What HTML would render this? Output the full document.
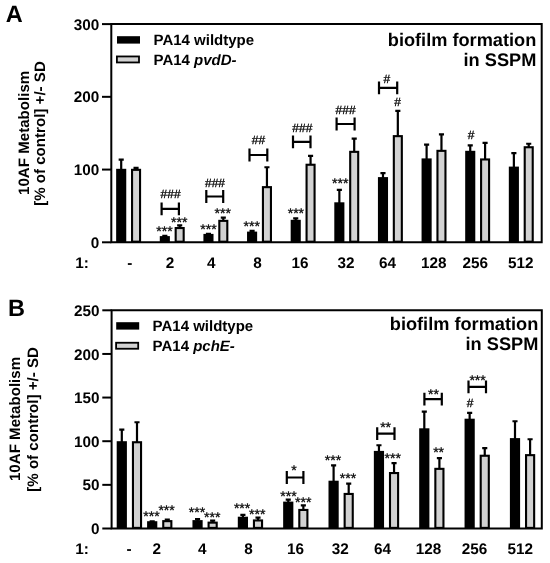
<!DOCTYPE html>
<html><head><meta charset="utf-8"><title>Figure</title>
<style>html,body{margin:0;padding:0;background:#fff}svg{display:block;will-change:transform}text{text-rendering:geometricPrecision;font-family:"Liberation Sans", sans-serif;fill:#000}</style></head><body>
<svg width="550" height="563" viewBox="0 0 550 563">
<rect width="550" height="563" fill="#fff"/>
<path d="M121.20 169.80V159.60M118.65 159.65H123.75" stroke="#000" stroke-width="2.2" fill="none"/>
<rect x="116.15" y="168.80" width="10.10" height="73.50" fill="#000"/>
<path d="M136.05 169.80V167.80M133.50 167.85H138.60" stroke="#000" stroke-width="2.2" fill="none"/>
<rect x="132.05" y="169.85" width="8.00" height="71.85" fill="#d2d2d2" stroke="#000" stroke-width="2.1"/>
<path d="M164.83 237.10V235.80M162.28 235.85H167.38" stroke="#000" stroke-width="2.2" fill="none"/>
<rect x="159.78" y="236.10" width="10.10" height="6.20" fill="#000"/>
<path d="M179.68 228.00V225.40M177.13 225.45H182.23" stroke="#000" stroke-width="2.2" fill="none"/>
<rect x="175.68" y="228.05" width="8.00" height="13.65" fill="#d2d2d2" stroke="#000" stroke-width="2.1"/>
<path d="M208.46 234.90V233.90M205.91 233.95H211.01" stroke="#000" stroke-width="2.2" fill="none"/>
<rect x="203.41" y="233.90" width="10.10" height="8.40" fill="#000"/>
<path d="M223.31 220.80V217.60M220.76 217.65H225.86" stroke="#000" stroke-width="2.2" fill="none"/>
<rect x="219.31" y="220.85" width="8.00" height="20.85" fill="#d2d2d2" stroke="#000" stroke-width="2.1"/>
<path d="M252.09 232.60V230.90M249.54 230.95H254.64" stroke="#000" stroke-width="2.2" fill="none"/>
<rect x="247.04" y="231.60" width="10.10" height="10.70" fill="#000"/>
<path d="M266.94 187.10V167.20M264.39 167.25H269.49" stroke="#000" stroke-width="2.2" fill="none"/>
<rect x="262.94" y="187.15" width="8.00" height="54.55" fill="#d2d2d2" stroke="#000" stroke-width="2.1"/>
<path d="M295.72 220.80V218.40M293.17 218.45H298.27" stroke="#000" stroke-width="2.2" fill="none"/>
<rect x="290.67" y="219.80" width="10.10" height="22.50" fill="#000"/>
<path d="M310.57 164.70V155.80M308.02 155.85H313.12" stroke="#000" stroke-width="2.2" fill="none"/>
<rect x="306.57" y="164.75" width="8.00" height="76.95" fill="#d2d2d2" stroke="#000" stroke-width="2.1"/>
<path d="M339.35 203.30V189.80M336.80 189.85H341.90" stroke="#000" stroke-width="2.2" fill="none"/>
<rect x="334.30" y="202.30" width="10.10" height="40.00" fill="#000"/>
<path d="M354.20 151.80V138.50M351.65 138.55H356.75" stroke="#000" stroke-width="2.2" fill="none"/>
<rect x="350.20" y="151.85" width="8.00" height="89.85" fill="#d2d2d2" stroke="#000" stroke-width="2.1"/>
<path d="M382.98 178.10V173.00M380.43 173.05H385.53" stroke="#000" stroke-width="2.2" fill="none"/>
<rect x="377.93" y="177.10" width="10.10" height="65.20" fill="#000"/>
<path d="M397.83 136.10V110.80M395.28 110.85H400.38" stroke="#000" stroke-width="2.2" fill="none"/>
<rect x="393.83" y="136.15" width="8.00" height="105.55" fill="#d2d2d2" stroke="#000" stroke-width="2.1"/>
<path d="M426.61 159.40V144.60M424.06 144.65H429.16" stroke="#000" stroke-width="2.2" fill="none"/>
<rect x="421.56" y="158.40" width="10.10" height="83.90" fill="#000"/>
<path d="M441.46 150.80V134.40M438.91 134.45H444.01" stroke="#000" stroke-width="2.2" fill="none"/>
<rect x="437.46" y="150.85" width="8.00" height="90.85" fill="#d2d2d2" stroke="#000" stroke-width="2.1"/>
<path d="M470.24 151.80V145.30M467.69 145.35H472.79" stroke="#000" stroke-width="2.2" fill="none"/>
<rect x="465.19" y="150.80" width="10.10" height="91.50" fill="#000"/>
<path d="M485.09 159.40V142.80M482.54 142.85H487.64" stroke="#000" stroke-width="2.2" fill="none"/>
<rect x="481.09" y="159.45" width="8.00" height="82.25" fill="#d2d2d2" stroke="#000" stroke-width="2.1"/>
<path d="M513.87 167.60V153.10M511.32 153.15H516.42" stroke="#000" stroke-width="2.2" fill="none"/>
<rect x="508.82" y="166.60" width="10.10" height="75.70" fill="#000"/>
<path d="M528.72 147.20V143.70M526.17 143.75H531.27" stroke="#000" stroke-width="2.2" fill="none"/>
<rect x="524.72" y="147.25" width="8.00" height="94.45" fill="#d2d2d2" stroke="#000" stroke-width="2.1"/>
<path d="M111.3 24.1H541.7V242.3H111.3Z" fill="none" stroke="#000" stroke-width="2" stroke-linejoin="miter"/>
<path d="M102.0 24.1H111.3" stroke="#000" stroke-width="2"/>
<text x="99.3" y="29.65" font-size="15.3" font-weight="bold" text-anchor="end">300</text>
<path d="M102.0 96.83H111.3" stroke="#000" stroke-width="2"/>
<text x="99.3" y="102.38" font-size="15.3" font-weight="bold" text-anchor="end">200</text>
<path d="M102.0 169.57H111.3" stroke="#000" stroke-width="2"/>
<text x="99.3" y="175.12" font-size="15.3" font-weight="bold" text-anchor="end">100</text>
<path d="M102.0 242.3H111.3" stroke="#000" stroke-width="2"/>
<text x="99.3" y="247.85" font-size="15.3" font-weight="bold" text-anchor="end">0</text>
<text x="129.8" y="267.6" font-size="15.3" font-weight="bold" text-anchor="middle">-</text>
<text x="170.1" y="267.6" font-size="15.3" font-weight="bold" text-anchor="middle">2</text>
<text x="211.3" y="267.6" font-size="15.3" font-weight="bold" text-anchor="middle">4</text>
<text x="257.5" y="267.6" font-size="15.3" font-weight="bold" text-anchor="middle">8</text>
<text x="300" y="267.6" font-size="15.3" font-weight="bold" text-anchor="middle">16</text>
<text x="346" y="267.6" font-size="15.3" font-weight="bold" text-anchor="middle">32</text>
<text x="387.4" y="267.6" font-size="15.3" font-weight="bold" text-anchor="middle">64</text>
<text x="433.7" y="267.6" font-size="15.3" font-weight="bold" text-anchor="middle">128</text>
<text x="475.2" y="267.6" font-size="15.3" font-weight="bold" text-anchor="middle">256</text>
<text x="520.7" y="267.6" font-size="15.3" font-weight="bold" text-anchor="middle">512</text>
<text x="75.3" y="267.6" font-size="15.3" font-weight="bold">1:</text>
<text x="5.7" y="21.6" font-size="23.5" font-weight="bold">A</text>
<text transform="translate(29.3 70.8) rotate(-90)" font-size="15.1" font-weight="bold" text-anchor="end">10AF Metabolism</text>
<text transform="translate(44.9 61.2) rotate(-90)" font-size="15.1" font-weight="bold" text-anchor="end">[% of control] +/- SD</text>
<rect x="117" y="36.2" width="23" height="7.4" fill="#000"/>
<rect x="116.9" y="56.45" width="22.1" height="6.0" fill="#d2d2d2" stroke="#000" stroke-width="1.8"/>
<text x="153.5" y="44.9" font-size="15" font-weight="bold">PA14 wildtype</text>
<text x="153.5" y="64.6" font-size="15" font-weight="bold">PA14 <tspan font-style="italic">pvdD-</tspan></text>
<text x="536.3" y="45.6" font-size="18.2" font-weight="bold" text-anchor="end">biofilm formation</text>
<text x="536.3" y="66.3" font-size="18.2" font-weight="bold" text-anchor="end">in SSPM</text>
<text x="164.5" y="236.40" font-size="14" text-anchor="middle" stroke="#000" stroke-width="0.3">***</text>
<text x="179.3" y="227.30" font-size="14" text-anchor="middle" stroke="#000" stroke-width="0.3">***</text>
<text x="208.5" y="233.90" font-size="14" text-anchor="middle" stroke="#000" stroke-width="0.3">***</text>
<text x="222.7" y="217.50" font-size="14" text-anchor="middle" stroke="#000" stroke-width="0.3">***</text>
<text x="251.8" y="231.10" font-size="14" text-anchor="middle" stroke="#000" stroke-width="0.3">***</text>
<text x="295.9" y="218.10" font-size="14" text-anchor="middle" stroke="#000" stroke-width="0.3">***</text>
<text x="340.3" y="187.90" font-size="14" text-anchor="middle" stroke="#000" stroke-width="0.3">***</text>
<text x="170.6" y="198.30" font-size="12" text-anchor="middle" stroke="#000" stroke-width="0.3">###</text>
<text x="215" y="186.90" font-size="12" text-anchor="middle" stroke="#000" stroke-width="0.3">###</text>
<text x="258.5" y="144.30" font-size="12" text-anchor="middle" stroke="#000" stroke-width="0.3">##</text>
<text x="302.3" y="131.50" font-size="12" text-anchor="middle" stroke="#000" stroke-width="0.3">###</text>
<text x="345.6" y="114.00" font-size="12" text-anchor="middle" stroke="#000" stroke-width="0.3">###</text>
<text x="386.9" y="82.80" font-size="12" text-anchor="middle" stroke="#000" stroke-width="0.3">#</text>
<text x="397.7" y="105.60" font-size="12" text-anchor="middle" stroke="#000" stroke-width="0.3">#</text>
<text x="471" y="138.80" font-size="12" text-anchor="middle" stroke="#000" stroke-width="0.3">#</text>
<path d="M161.6 202.50V215.30M178.9 202.50V215.30M161.6 208.9H178.9" stroke="#000" stroke-width="2.2" fill="none"/>
<path d="M206.3 190.10V202.90M223.2 190.10V202.90M206.3 196.5H223.2" stroke="#000" stroke-width="2.2" fill="none"/>
<path d="M249.5 148.60V161.40M267.3 148.60V161.40M249.5 155H267.3" stroke="#000" stroke-width="2.2" fill="none"/>
<path d="M293 135.50V148.30M310.5 135.50V148.30M293 141.9H310.5" stroke="#000" stroke-width="2.2" fill="none"/>
<path d="M336.6 117.60V130.40M354.6 117.60V130.40M336.6 124H354.6" stroke="#000" stroke-width="2.2" fill="none"/>
<path d="M379 81.50V94.30M397.2 81.50V94.30M379 87.9H397.2" stroke="#000" stroke-width="2.2" fill="none"/>
<path d="M121.80 442.20V429.50M119.25 429.55H124.35" stroke="#000" stroke-width="2.2" fill="none"/>
<rect x="116.70" y="441.20" width="10.20" height="87.30" fill="#000"/>
<path d="M137.00 442.20V422.20M134.45 422.25H139.55" stroke="#000" stroke-width="2.2" fill="none"/>
<rect x="132.95" y="442.25" width="8.10" height="85.65" fill="#d2d2d2" stroke="#000" stroke-width="2.1"/>
<path d="M152.20 522.20V521.20M149.65 521.25H154.75" stroke="#000" stroke-width="2.2" fill="none"/>
<rect x="147.10" y="521.20" width="10.20" height="7.30" fill="#000"/>
<path d="M167.30 521.10V519.60M164.75 519.65H169.85" stroke="#000" stroke-width="2.2" fill="none"/>
<rect x="163.25" y="521.15" width="8.10" height="6.75" fill="#d2d2d2" stroke="#000" stroke-width="2.1"/>
<path d="M197.55 521.10V519.10M195.00 519.15H200.10" stroke="#000" stroke-width="2.2" fill="none"/>
<rect x="192.45" y="520.10" width="10.20" height="8.40" fill="#000"/>
<path d="M212.65 522.60V520.50M210.10 520.55H215.20" stroke="#000" stroke-width="2.2" fill="none"/>
<rect x="208.60" y="522.65" width="8.10" height="5.25" fill="#d2d2d2" stroke="#000" stroke-width="2.1"/>
<path d="M242.90 517.70V514.90M240.35 514.95H245.45" stroke="#000" stroke-width="2.2" fill="none"/>
<rect x="237.80" y="516.70" width="10.20" height="11.80" fill="#000"/>
<path d="M258.00 520.40V517.60M255.45 517.65H260.55" stroke="#000" stroke-width="2.2" fill="none"/>
<rect x="253.95" y="520.45" width="8.10" height="7.45" fill="#d2d2d2" stroke="#000" stroke-width="2.1"/>
<path d="M288.25 502.60V499.60M285.70 499.65H290.80" stroke="#000" stroke-width="2.2" fill="none"/>
<rect x="283.15" y="501.60" width="10.20" height="26.90" fill="#000"/>
<path d="M303.35 509.90V505.40M300.80 505.45H305.90" stroke="#000" stroke-width="2.2" fill="none"/>
<rect x="299.30" y="509.95" width="8.10" height="17.95" fill="#d2d2d2" stroke="#000" stroke-width="2.1"/>
<path d="M333.60 481.70V465.40M331.05 465.45H336.15" stroke="#000" stroke-width="2.2" fill="none"/>
<rect x="328.50" y="480.70" width="10.20" height="47.80" fill="#000"/>
<path d="M348.70 493.90V483.60M346.15 483.65H351.25" stroke="#000" stroke-width="2.2" fill="none"/>
<rect x="344.65" y="493.95" width="8.10" height="33.95" fill="#d2d2d2" stroke="#000" stroke-width="2.1"/>
<path d="M378.95 451.90V445.20M376.40 445.25H381.50" stroke="#000" stroke-width="2.2" fill="none"/>
<rect x="373.85" y="450.90" width="10.20" height="77.60" fill="#000"/>
<path d="M394.05 473.00V463.10M391.50 463.15H396.60" stroke="#000" stroke-width="2.2" fill="none"/>
<rect x="390.00" y="473.05" width="8.10" height="54.85" fill="#d2d2d2" stroke="#000" stroke-width="2.1"/>
<path d="M424.30 429.30V411.60M421.75 411.65H426.85" stroke="#000" stroke-width="2.2" fill="none"/>
<rect x="419.20" y="428.30" width="10.20" height="100.20" fill="#000"/>
<path d="M439.40 468.80V458.00M436.85 458.05H441.95" stroke="#000" stroke-width="2.2" fill="none"/>
<rect x="435.35" y="468.85" width="8.10" height="59.05" fill="#d2d2d2" stroke="#000" stroke-width="2.1"/>
<path d="M469.65 419.70V412.90M467.10 412.95H472.20" stroke="#000" stroke-width="2.2" fill="none"/>
<rect x="464.55" y="418.70" width="10.20" height="109.80" fill="#000"/>
<path d="M484.75 455.70V448.00M482.20 448.05H487.30" stroke="#000" stroke-width="2.2" fill="none"/>
<rect x="480.70" y="455.75" width="8.10" height="72.15" fill="#d2d2d2" stroke="#000" stroke-width="2.1"/>
<path d="M515.00 439.10V421.20M512.45 421.25H517.55" stroke="#000" stroke-width="2.2" fill="none"/>
<rect x="509.90" y="438.10" width="10.20" height="90.40" fill="#000"/>
<path d="M530.10 455.10V439.20M527.55 439.25H532.65" stroke="#000" stroke-width="2.2" fill="none"/>
<rect x="526.05" y="455.15" width="8.10" height="72.75" fill="#d2d2d2" stroke="#000" stroke-width="2.1"/>
<path d="M111.6 310.3H541.8V528.5H111.6Z" fill="none" stroke="#000" stroke-width="2" stroke-linejoin="miter"/>
<path d="M102.3 310.3H111.6" stroke="#000" stroke-width="2"/>
<text x="99.6" y="315.85" font-size="15.3" font-weight="bold" text-anchor="end">250</text>
<path d="M102.3 353.95H111.6" stroke="#000" stroke-width="2"/>
<text x="99.6" y="359.50" font-size="15.3" font-weight="bold" text-anchor="end">200</text>
<path d="M102.3 397.55H111.6" stroke="#000" stroke-width="2"/>
<text x="99.6" y="403.10" font-size="15.3" font-weight="bold" text-anchor="end">150</text>
<path d="M102.3 441.2H111.6" stroke="#000" stroke-width="2"/>
<text x="99.6" y="446.75" font-size="15.3" font-weight="bold" text-anchor="end">100</text>
<path d="M102.3 484.85H111.6" stroke="#000" stroke-width="2"/>
<text x="99.6" y="490.40" font-size="15.3" font-weight="bold" text-anchor="end">50</text>
<path d="M102.3 528.5H111.6" stroke="#000" stroke-width="2"/>
<text x="99.6" y="534.05" font-size="15.3" font-weight="bold" text-anchor="end">0</text>
<text x="129" y="553.8" font-size="15.3" font-weight="bold" text-anchor="middle">-</text>
<text x="156.7" y="553.8" font-size="15.3" font-weight="bold" text-anchor="middle">2</text>
<text x="202.3" y="553.8" font-size="15.3" font-weight="bold" text-anchor="middle">4</text>
<text x="248.4" y="553.8" font-size="15.3" font-weight="bold" text-anchor="middle">8</text>
<text x="295.4" y="553.8" font-size="15.3" font-weight="bold" text-anchor="middle">16</text>
<text x="340.3" y="553.8" font-size="15.3" font-weight="bold" text-anchor="middle">32</text>
<text x="382.4" y="553.8" font-size="15.3" font-weight="bold" text-anchor="middle">64</text>
<text x="428.6" y="553.8" font-size="15.3" font-weight="bold" text-anchor="middle">128</text>
<text x="474.4" y="553.8" font-size="15.3" font-weight="bold" text-anchor="middle">256</text>
<text x="520.2" y="553.8" font-size="15.3" font-weight="bold" text-anchor="middle">512</text>
<text x="75.3" y="553.8" font-size="15.3" font-weight="bold">1:</text>
<text x="7.9" y="315.5" font-size="23.5" font-weight="bold">B</text>
<text transform="translate(20.2 356.9) rotate(-90)" font-size="15.1" font-weight="bold" text-anchor="end">10AF Metabolism</text>
<text transform="translate(37.5 347.1) rotate(-90)" font-size="15.1" font-weight="bold" text-anchor="end">[% of control] +/- SD</text>
<rect x="116.2" y="322.2" width="23" height="7.4" fill="#000"/>
<rect x="116.10000000000001" y="342.75" width="22.1" height="6.0" fill="#d2d2d2" stroke="#000" stroke-width="1.8"/>
<text x="152.6" y="331.0" font-size="15" font-weight="bold">PA14 wildtype</text>
<text x="152.6" y="350.7" font-size="15" font-weight="bold">PA14 <tspan font-style="italic">pchE-</tspan></text>
<text x="538.3" y="330" font-size="18.2" font-weight="bold" text-anchor="end">biofilm formation</text>
<text x="538.3" y="350.3" font-size="18.2" font-weight="bold" text-anchor="end">in SSPM</text>
<text x="151.5" y="520.90" font-size="14" text-anchor="middle" stroke="#000" stroke-width="0.3">***</text>
<text x="166.6" y="514.70" font-size="14" text-anchor="middle" stroke="#000" stroke-width="0.3">***</text>
<text x="197" y="517.20" font-size="14" text-anchor="middle" stroke="#000" stroke-width="0.3">***</text>
<text x="212.3" y="522.30" font-size="14" text-anchor="middle" stroke="#000" stroke-width="0.3">***</text>
<text x="242.1" y="512.70" font-size="14" text-anchor="middle" stroke="#000" stroke-width="0.3">***</text>
<text x="257.3" y="519.00" font-size="14" text-anchor="middle" stroke="#000" stroke-width="0.3">***</text>
<text x="288.5" y="500.50" font-size="14" text-anchor="middle" stroke="#000" stroke-width="0.3">***</text>
<text x="303.3" y="507.20" font-size="14" text-anchor="middle" stroke="#000" stroke-width="0.3">***</text>
<text x="333" y="464.50" font-size="14" text-anchor="middle" stroke="#000" stroke-width="0.3">***</text>
<text x="348" y="482.90" font-size="14" text-anchor="middle" stroke="#000" stroke-width="0.3">***</text>
<text x="392.7" y="463.00" font-size="14" text-anchor="middle" stroke="#000" stroke-width="0.3">***</text>
<text x="438.6" y="457.20" font-size="14" text-anchor="middle" stroke="#000" stroke-width="0.3">**</text>
<text x="293.9" y="475.40" font-size="14" text-anchor="middle" stroke="#000" stroke-width="0.3">*</text>
<text x="385.6" y="431.60" font-size="14" text-anchor="middle" stroke="#000" stroke-width="0.3">**</text>
<text x="433.4" y="399.40" font-size="14" text-anchor="middle" stroke="#000" stroke-width="0.3">**</text>
<text x="477.6" y="384.90" font-size="14" text-anchor="middle" stroke="#000" stroke-width="0.3">***</text>
<text x="470.1" y="406.80" font-size="12" text-anchor="middle" stroke="#000" stroke-width="0.3">#</text>
<path d="M286.8 471.10V483.90M303.4 471.10V483.90M286.8 477.5H303.4" stroke="#000" stroke-width="2.2" fill="none"/>
<path d="M377.2 427.20V440.00M394.5 427.20V440.00M377.2 433.6H394.5" stroke="#000" stroke-width="2.2" fill="none"/>
<path d="M424.4 392.70V405.50M441.8 392.70V405.50M424.4 399.1H441.8" stroke="#000" stroke-width="2.2" fill="none"/>
<path d="M468.5 380.40V393.20M486 380.40V393.20M468.5 386.8H486" stroke="#000" stroke-width="2.2" fill="none"/>
</svg></body></html>
